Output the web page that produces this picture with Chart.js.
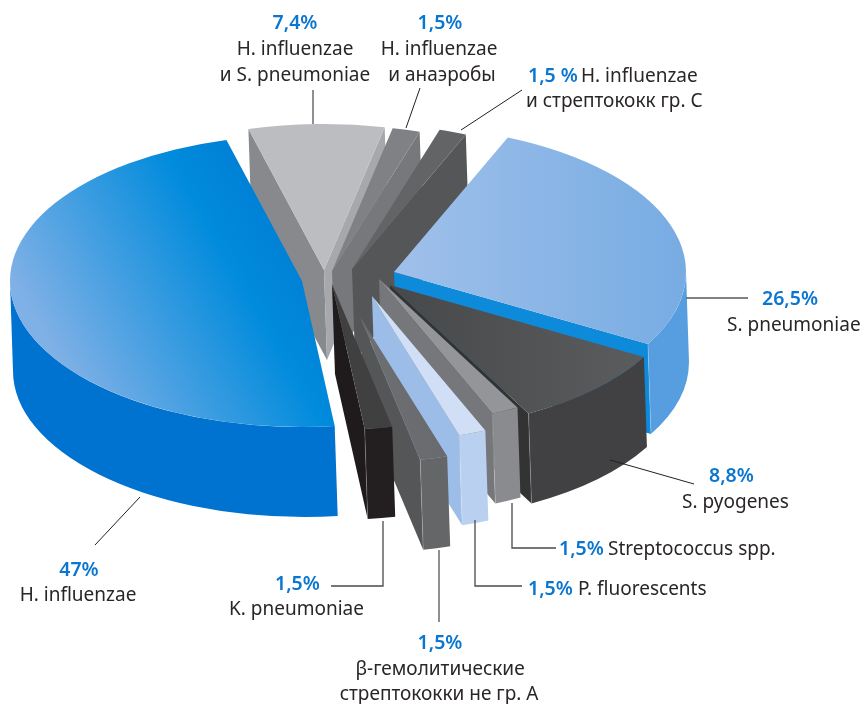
<!DOCTYPE html>
<html><head><meta charset="utf-8"><style>html,body{margin:0;padding:0;background:#fff}canvas{display:block}</style>
<script src="https://cdn.jsdelivr.net/npm/chart.js@4"></script></head>
<body><canvas id="c" width="862" height="704"></canvas>
<script>
// ---- data ----
const categories = ['H. influenzae и S. pneumoniae','H. influenzae и анаэробы','H. influenzae и стрептококк гр. С','S. pneumoniae','S. pyogenes','Streptococcus spp.','P. fluorescents','β-гемолитические стрептококки не гр. А','K. pneumoniae','H. influenzae'];
const shares = [7.4,1.5,1.5,26.5,8.8,1.5,1.5,1.5,1.5,47];
// ---- style: one entry per slice ----
const topColors   = [['#bcbdc1','#bcbdc1'],['#808184','#808184'],['#636466','#636466'],['#a0c0ea','#77ace3'],['#47484a','#5e5f61'],['#939598','#939598'],['#d0dff6','#d0dff6'],['#6e6f72','#5f6063'],['#404041','#404041'],null];
const rimColors   = ['#a7a8ab','#808184','#636466','#569ee0','#414042','#8a8b8e','#b9d0f1','#656668','#231f20','#0072d0'];
const startWalls  = ['#88898c','#808184','#636466','#0d8ad9','#333333','#76777a','#9dbde9','#58595b','#231f20','#0072d0'];
const endWalls    = ['#a7a8ab','#77787b','#555658','#0d8ad9','#333333','#76777a','#9dbde9','#555658','#1f1b1c','#0072d0'];
const sliceShiftX = [-21,-13,7,49,45,34,27,15,-13,-43];
const sliceShiftY = [-8,-7,-9,-6,7,1,18,39,6,3];
const paintOrder  = [0,1,2,3,9,4,5,6,7,8];
const pieCenter = [345,278], pieRadius = 292, tilt = 0.5, depthX = 3, depthY = 90, firstAngle = -15;
// ---- annotation text: [text,x,y,align,isPercent] ----
const labelRows = [
 ['7,4%',295,29,'center',1],['H. influenzae',295,55,'center',0],['и S. pneumoniae',295,81,'center',0],
 ['1,5%',440,29,'center',1],['H. influenzae',439,55,'center',0],['и анаэробы',442,81,'center',0],
 ['1,5 %',528,82,'left',1],['H. influenzae',581,82,'left',0],['и стрептококк гр. С',526,107,'left',0],
 ['26,5%',762,305,'left',1],['S. pneumoniae',727,331,'left',0],
 ['8,8%',709,482,'left',1],['S. pyogenes',682,508,'left',0],
 ['1,5%',559,555,'left',1],['Streptococcus spp.',608,555,'left',0],
 ['1,5%',528,595,'left',1],['P. fluorescents',578,595,'left',0],
 ['1,5%',275,590,'left',1],['K. pneumoniae',229,615,'left',0],
 ['1,5%',440,649,'center',1],['β-гемолитические',440,675,'center',0],['стрептококки не гр. А',439,700,'center',0],
 ['47%',79,576,'center',1],['H. influenzae',78,601,'center',0]
];
const leaderLines = [
 [[313,90],[313,124]],[[420,88],[406,128]],[[522,90],[461,130]],[[686,298],[748,298]],
 [[610,460],[694,484]],[[512,503],[512,548],[556,548]],[[475,520],[475,586],[522,586]],
 [[439,550],[439,622]],[[383,521],[383,586],[331,586]],[[140,497],[95,545]]
];
const leaderColors = ['#231f20','#231f20','#231f20','#58595b','#231f20','#4a4a4c','#4a4a4c','#231f20','#4a4a4c','#231f20'];
const leaderWidths = [1,1,1,1.4,1,1.3,1.3,1,1.3,1];

function topFill(c){
  const i = c.dataIndex, g0 = c.chart.ctx, x = pieCenter[0], y = pieCenter[1];
  if (i === undefined) return '#808184';
  if (i === 9){
    const g = g0.createLinearGradient(x-260,y+98,x+14,y+19);
    g.addColorStop(0,'#7fb0e6'); g.addColorStop(.77,'#008bdc'); g.addColorStop(1,'#0080d6');
    return g;
  }
  const g = g0.createLinearGradient(x,y,x+290,y);
  g.addColorStop(0,topColors[i][0]); g.addColorStop(1,topColors[i][1]);
  return g;
}
const pie3d = {
  id:'pie3d',
  beforeDatasetDraw(chart){
    const ctx = chart.ctx, arcs = chart.getDatasetMeta(0).data;
    paintOrder.forEach(i=>{
      const arc = arcs[i], a = arc.startAngle, b = arc.endAngle, R = arc.outerRadius;
      const ax = arc.x + sliceShiftX[i], ay = arc.y + sliceShiftY[i], ry = R*tilt;
      const wall = (t,col)=>{
        const px = ax+R*Math.cos(t), py = ay+ry*Math.sin(t);
        ctx.fillStyle = col; ctx.beginPath(); ctx.moveTo(ax,ay); ctx.lineTo(px,py);
        ctx.lineTo(px+depthX,py+depthY); ctx.lineTo(ax+depthX,ay+depthY); ctx.closePath(); ctx.fill();
      };
      if (Math.cos(a) < 0) wall(a,startWalls[i]);
      if (Math.cos(b) > 0) wall(b,endWalls[i]);
      const s = Math.max(a,0), e = Math.min(b,Math.PI);
      if (e > s){
        ctx.fillStyle = rimColors[i]; ctx.beginPath();
        ctx.ellipse(ax,ay,R,ry,0,s,e);
        ctx.ellipse(ax+depthX,ay+depthY,R,ry,0,e,s,true);
        ctx.closePath(); ctx.fill();
      }
      ctx.save();
      ctx.translate(ax,ay); ctx.scale(1,tilt); ctx.translate(-arc.x,-arc.y);
      arc.draw(ctx);
      ctx.restore();
      // thin highlight where the wall meets the rim of the slice
      if (Math.cos(b) > 0 && Math.sin(b) > 0 && e > s){
        const px = ax+R*Math.cos(b), py = ay+ry*Math.sin(b);
        ctx.strokeStyle = 'rgba(255,255,255,.28)'; ctx.lineWidth = .8;
        ctx.beginPath(); ctx.moveTo(px,py); ctx.lineTo(px+depthX,py+depthY); ctx.stroke();
      }
    });
    return false;
  },
  afterDraw(chart){
    const ctx = chart.ctx;
    ctx.save();
    leaderLines.forEach((l,k)=>{
      ctx.strokeStyle = leaderColors[k]; ctx.lineWidth = leaderWidths[k];
      ctx.beginPath(); l.forEach((p,j)=> j?ctx.lineTo(p[0],p[1]):ctx.moveTo(p[0],p[1])); ctx.stroke();
    });
    ctx.textBaseline = 'alphabetic';
    labelRows.forEach(r=>{
      ctx.font = r[4] ? '600 19.5px "Noto Sans"' : '400 19px "Noto Sans"';
      ctx.fillStyle = r[4]?'#0b76d0':'#2a2627';
      ctx.textAlign = r[3];
      ctx.fillText(r[0],r[1],r[2]);
    });
    ctx.restore();
  }
};
new Chart(document.getElementById('c'),{
  type:'pie',
  data:{labels:categories,datasets:[{data:shares,backgroundColor:topFill,borderWidth:0,hoverOffset:0}]},
  options:{
    responsive:false,animation:false,radius:pieRadius,rotation:firstAngle,
    layout:{padding:{left:0,top:0,right:862-2*pieCenter[0],bottom:704-2*pieCenter[1]}},
    events:[],
    plugins:{legend:{display:false},tooltip:{enabled:false}}
  },
  plugins:[pie3d]
});
</script></body></html>
